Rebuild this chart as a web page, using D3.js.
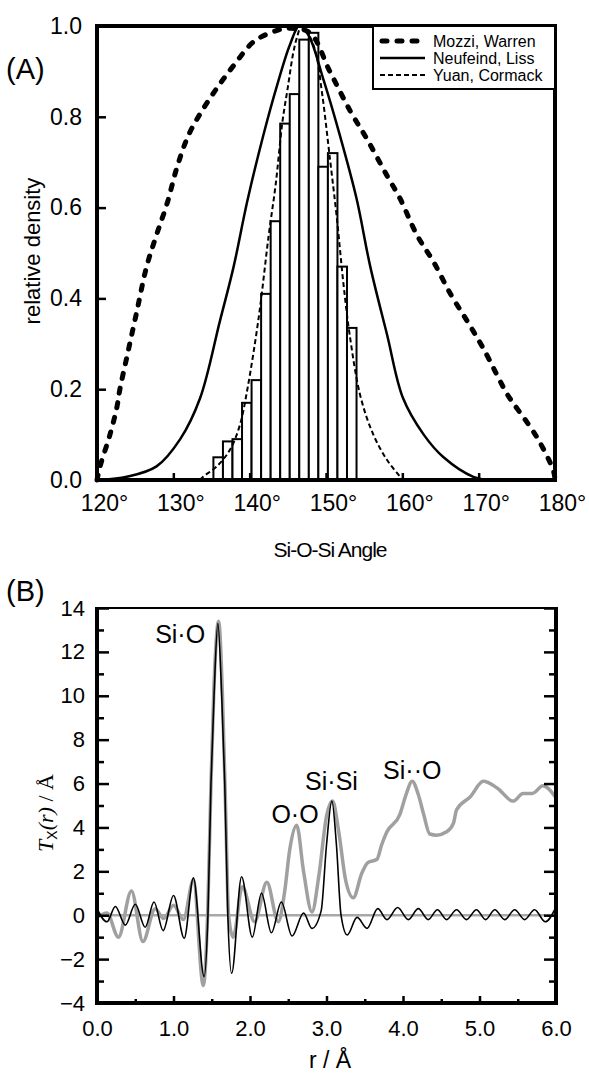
<!DOCTYPE html>
<html>
<head>
<meta charset="utf-8">
<script src="https://cdn.jsdelivr.net/npm/d3@7"></script>
<style>
body { margin: 0; background: #fff; }
text { font-family: "Liberation Sans", Arial, sans-serif; fill: #000; }
</style>
</head>
<body>
<div id="chart"></div>
<script>
// ---- Panel (A): Si-O-Si angle distributions ----
const mozziAngle   = [120, 120.4, 121.7, 122.6, 123, 123.9, 125.2, 126.5, 127.8, 129.2, 130.5, 132, 134, 136, 138, 140.5, 143.5, 145.3, 147.9, 150.5, 153.1, 155.4, 158, 159.7, 161.9, 164.1, 166.3, 168.5, 170.6, 173.7, 174.5, 177.6, 179.8, 180];
const mozziDensity = [0, 0.03, 0.10, 0.16, 0.20, 0.27, 0.37, 0.47, 0.54, 0.61, 0.69, 0.76, 0.82, 0.87, 0.915, 0.965, 0.99, 0.995, 0.985, 0.90, 0.815, 0.75, 0.67, 0.62, 0.54, 0.48, 0.41, 0.35, 0.29, 0.19, 0.17, 0.095, 0.02, 0];

const neufeindAngle   = [120.5, 123.9, 127.8, 130.9, 133.5, 136.1, 137.9, 139.7, 141.8, 143.6, 145.3, 146.5, 147.7, 149.7, 151.8, 154, 155.8, 158, 160.1, 162.8, 165.4, 169.3, 171.5];
const neufeindDensity = [0, 0.007, 0.03, 0.09, 0.18, 0.35, 0.47, 0.615, 0.76, 0.87, 0.96, 1.0, 0.98, 0.88, 0.76, 0.62, 0.47, 0.32, 0.18, 0.10, 0.05, 0.007, 0];

const yuanAngle   = [133.5, 133.9, 135.7, 137.4, 138.7, 139.7, 141.2, 142.5, 143.4, 144.3, 145, 145.7, 146.2, 146.8, 147.6, 148.6, 149.5, 150.5, 151.4, 152.3, 153.1, 154.5, 156.2, 158, 159.7, 160];
const yuanDensity = [0, 0.007, 0.03, 0.066, 0.12, 0.2, 0.36, 0.54, 0.65, 0.79, 0.865, 0.94, 0.975, 1.0, 0.985, 0.945, 0.85, 0.71, 0.58, 0.43, 0.32, 0.185, 0.10, 0.044, 0.007, 0];

// histogram bins (left edge, degrees), all 1.25 wide
const histLeft   = [135.25, 136.5, 137.75, 139, 140.25, 141.5, 142.75, 144, 145.25, 146.5, 147.75, 149, 150.25, 151.5, 152.75];
const histHeight = [0.05, 0.085, 0.09, 0.17, 0.22, 0.41, 0.57, 0.785, 0.85, 0.97, 0.985, 0.69, 0.72, 0.47, 0.335];
const histWidth = 1.25;

const angleTicks = [120, 130, 140, 150, 160, 170, 180];
const densityTicks = [0, 0.2, 0.4, 0.6, 0.8, 1.0];
const legendLabels = ["Mozzi, Warren", "Neufeind, Liss", "Yuan, Cormack"];

// ---- Panel (B): T(r) ----
const totalR = [0, 0.13, 0.28, 0.45, 0.6, 0.76, 0.87, 1.0, 1.13, 1.26, 1.39, 1.45, 1.49, 1.53, 1.59, 1.64, 1.68, 1.72, 1.78, 1.9, 2.06, 2.22, 2.37, 2.45, 2.52, 2.61, 2.7, 2.81, 2.9, 3.0, 3.08, 3.16, 3.25, 3.35, 3.46, 3.54, 3.66, 3.72, 3.79, 3.96, 4.04, 4.12, 4.2, 4.27, 4.35, 4.44, 4.57, 4.66, 4.7, 4.88, 5.05, 5.23, 5.44, 5.57, 5.69, 5.83, 5.99];
const totalT = [-0.1, 0.1, -1.0, 1.1, -1.2, 0.3, -0.15, 0.45, -0.2, 1.6, -3.2, 0.5, 6, 10.5, 13.4, 10, 5, 0, -1.0, 1.3, -0.3, 1.5, -0.3, 1.0, 3.0, 4.1, 2.0, 0.15, 1.8, 4.5, 5.2, 3.8, 1.6, 0.8, 1.9, 2.4, 2.55, 3.2, 3.8, 4.6, 5.5, 6.1, 5.5, 4.6, 3.7, 3.65, 3.8, 4.2, 4.8, 5.4, 6.1, 5.8, 5.2, 5.55, 5.55, 5.9, 5.4];

const diffR = [0, 0.13, 0.24, 0.37, 0.5, 0.63, 0.745, 0.865, 1.0, 1.14, 1.26, 1.40, 1.45, 1.49, 1.53, 1.58, 1.63, 1.67, 1.71, 1.76, 1.89, 2.03, 2.15, 2.28, 2.41, 2.55, 2.70, 2.81, 2.93, 3.0, 3.07, 3.13, 3.19, 3.27, 3.4, 3.53, 3.67, 3.79, 3.93, 4.07, 4.2, 4.33, 4.45, 4.57, 4.7, 4.83, 4.96, 5.08, 5.2, 5.33, 5.46, 5.59, 5.72, 5.86, 5.99];
const diffT = [0.3, -0.3, 0.4, -0.45, 0.5, -0.55, 0.6, -0.7, 0.9, -1.05, 1.7, -2.8, 0, 6, 10, 13.3, 10, 6, 0, -2.65, 1.75, -1.0, 1.0, -0.8, 0.6, -0.95, 0.1, -0.6, 0.2, 3.2, 5.2, 3.2, 0, -0.9, -0.1, -0.6, 0.3, -0.2, 0.35, -0.2, 0.3, -0.2, 0.25, -0.2, 0.25, -0.2, 0.25, -0.2, 0.25, -0.2, 0.25, -0.2, 0.25, -0.3, 0.3];

const rTicks = [0, 1, 2, 3, 4, 5, 6];
const rMinor = [0.5, 1.5, 2.5, 3.5, 4.5, 5.5];
const tTicks = [-4, -2, 0, 2, 4, 6, 8, 10, 12, 14];
const tMinor = [-3, -1, 1, 3, 5, 7, 9, 11, 13];
const peakLabels = [
    { text: "Si\u00b7O", r: 0.76, t: 12.4 },
    { text: "O\u00b7O", r: 2.28, t: 4.2 },
    { text: "Si\u00b7Si", r: 2.72, t: 5.7 },
    { text: "Si\u00b7\u00b7O", r: 3.74, t: 6.2 }
];

const svg = d3.select("#chart").append("svg")
    .attr("width", 589)
    .attr("height", 1074);

svg.append("rect").attr("width", 589).attr("height", 1074).attr("fill", "#fff");

// ================= Panel A =================
const xA = d3.scaleLinear().domain([120, 180]).range([97, 555]);
const yA = d3.scaleLinear().domain([0, 1]).range([480, 26]);

// histogram bars
svg.append("g").selectAll("rect")
    .data(histLeft)
    .enter().append("rect")
    .attr("x", d => xA(d))
    .attr("width", d => xA(d + histWidth) - xA(d))
    .attr("y", (d, i) => yA(histHeight[i]))
    .attr("height", (d, i) => yA(0) - yA(histHeight[i]))
    .attr("fill", "#fff")
    .attr("stroke", "#000")
    .attr("stroke-width", 2);

const lineA = d3.line()
    .x(d => xA(d[0]))
    .y(d => yA(d[1]))
    .curve(d3.curveCatmullRom.alpha(0.5));

// the three model curves
svg.append("path")
    .attr("d", lineA(d3.zip(neufeindAngle, neufeindDensity)))
    .attr("fill", "none").attr("stroke", "#000").attr("stroke-width", 2.5);

svg.append("path")
    .attr("d", lineA(d3.zip(yuanAngle, yuanDensity)))
    .attr("fill", "none").attr("stroke", "#000").attr("stroke-width", 2)
    .attr("stroke-dasharray", "5,3");

svg.append("path")
    .attr("d", lineA(d3.zip(mozziAngle, mozziDensity)))
    .attr("fill", "none").attr("stroke", "#000").attr("stroke-width", 5)
    .attr("stroke-linecap", "round")
    .attr("stroke-dasharray", "5,10");

// axes with inward ticks
const axA_y = svg.append("g")
    .attr("transform", "translate(97,0)")
    .call(d3.axisLeft(yA).tickValues(densityTicks).tickFormat(d3.format(".1f")).tickSize(-9).tickPadding(15));
const axA_x = svg.append("g")
    .attr("transform", "translate(0,480)")
    .call(d3.axisBottom(xA).tickValues(angleTicks).tickFormat(d => d + "\u00b0").tickSize(-7).tickPadding(15));

[axA_y, axA_x].forEach(ax => {
    ax.select(".domain").remove();
    ax.selectAll("line").attr("stroke", "#000").attr("stroke-width", 2.5);
    ax.selectAll("text").style("font-size", "23px").attr("fill", "#000");
});
axA_x.selectAll("text").attr("dx", 7);

// frame
svg.append("rect")
    .attr("x", 97).attr("y", 26)
    .attr("width", 555 - 97).attr("height", 480 - 26)
    .attr("fill", "none").attr("stroke", "#000").attr("stroke-width", 4);

// legend
const legend = svg.append("g");
legend.append("rect")
    .attr("x", 373).attr("y", 26).attr("width", 182).attr("height", 63)
    .attr("fill", "#fff").attr("stroke", "#000").attr("stroke-width", 2);
const legendStyles = [
    { w: 5, dash: "5,10", cap: "round" },
    { w: 2.5, dash: null, cap: "butt" },
    { w: 2, dash: "5,3", cap: "butt" }
];
legendLabels.forEach((label, i) => {
    const ly = 41 + i * 17;
    legend.append("line")
        .attr("x1", i == 0 ? 382 : 380).attr("x2", 425)
        .attr("y1", ly).attr("y2", ly)
        .attr("stroke", "#000")
        .attr("stroke-width", legendStyles[i].w)
        .attr("stroke-linecap", legendStyles[i].cap)
        .attr("stroke-dasharray", legendStyles[i].dash);
    legend.append("text")
        .attr("x", 433).attr("y", ly + 6)
        .style("font-size", "16px")
        .text(label);
});

svg.append("text").attr("x", 6).attr("y", 79).style("font-size", "29px").text("(A)");

svg.append("text")
    .attr("transform", "translate(40,251) rotate(-90)")
    .attr("text-anchor", "middle")
    .style("font-size", "22px")
    .text("relative density");

svg.append("text")
    .attr("x", 330).attr("y", 557)
    .attr("text-anchor", "middle")
    .style("font-size", "21px")
    .style("letter-spacing", "-1px")
    .text("Si-O-Si Angle");

// ================= Panel B =================
const xB = d3.scaleLinear().domain([0, 6]).range([97, 556]);
const yB = d3.scaleLinear().domain([-4, 14]).range([1003, 608]);

const lineB = d3.line()
    .x(d => xB(d[0]))
    .y(d => yB(d[1]))
    .curve(d3.curveMonotoneX);

// zero line
svg.append("path")
    .attr("d", lineB([[0, 0], [6, 0]]))
    .attr("stroke", "#a8a8a8").attr("stroke-width", 2.5);

svg.append("path")
    .attr("d", lineB(d3.zip(totalR, totalT)))
    .attr("fill", "none").attr("stroke", "#a0a0a0").attr("stroke-width", 3.5)
    .attr("stroke-linejoin", "round");

svg.append("path")
    .attr("d", lineB(d3.zip(diffR, diffT)))
    .attr("fill", "none").attr("stroke", "#000").attr("stroke-width", 1.6);

const axB_y = svg.append("g")
    .attr("transform", "translate(97,0)")
    .call(d3.axisLeft(yB).tickValues(tTicks).tickFormat(d3.format("d")).tickSize(-12).tickPadding(12));
const axB_yMinor = svg.append("g")
    .attr("transform", "translate(97,0)")
    .call(d3.axisLeft(yB).tickValues(tMinor).tickFormat("").tickSize(-7));
const axB_yR = svg.append("g")
    .attr("transform", "translate(556,0)")
    .call(d3.axisRight(yB).tickValues(tTicks).tickFormat("").tickSize(-12));
const axB_yRMinor = svg.append("g")
    .attr("transform", "translate(556,0)")
    .call(d3.axisRight(yB).tickValues(tMinor).tickFormat("").tickSize(-7));
const axB_x = svg.append("g")
    .attr("transform", "translate(0,1003)")
    .call(d3.axisBottom(xB).tickValues(rTicks).tickFormat(d3.format(".1f")).tickSize(-7).tickPadding(17));
const axB_xMinor = svg.append("g")
    .attr("transform", "translate(0,1003)")
    .call(d3.axisBottom(xB).tickValues(rMinor).tickFormat("").tickSize(-4));

[axB_y, axB_yMinor, axB_yR, axB_yRMinor, axB_x, axB_xMinor].forEach(ax => {
    ax.select(".domain").remove();
    ax.selectAll("line").attr("stroke", "#000").attr("stroke-width", 2.5);
    ax.selectAll("text").style("font-size", "22px").attr("fill", "#000");
});

// frame: thin top, heavy other sides
svg.append("line").attr("x1", 97).attr("x2", 556).attr("y1", 608).attr("y2", 608)
    .attr("stroke", "#000").attr("stroke-width", 2);
svg.append("path")
    .attr("d", "M97,607V1003H556V607")
    .attr("fill", "none").attr("stroke", "#000").attr("stroke-width", 4);

// peak labels
svg.append("g").selectAll("text")
    .data(peakLabels)
    .enter().append("text")
    .attr("x", d => xB(d.r))
    .attr("y", d => yB(d.t))
    .style("font-size", "25px")
    .text(d => d.text);

svg.append("text").attr("x", 6).attr("y", 601).style("font-size", "29px").text("(B)");

const ylab = svg.append("text")
    .attr("transform", "translate(53,813) rotate(-90)")
    .attr("text-anchor", "middle")
    .style("font-family", "'Liberation Serif', serif")
    .style("font-size", "22px");
ylab.append("tspan").style("font-style", "italic").text("T");
ylab.append("tspan").style("font-family", "'Liberation Sans', sans-serif").style("font-size", "14px").attr("dy", 4).text("X");
ylab.append("tspan").attr("dy", -4).style("font-style", "italic").text("(r)");
ylab.append("tspan").text(" / \u00c5");

svg.append("text")
    .attr("x", 330).attr("y", 1068)
    .attr("text-anchor", "middle")
    .style("font-size", "23px")
    .text("r / \u00c5");
</script>
</body>
</html>
